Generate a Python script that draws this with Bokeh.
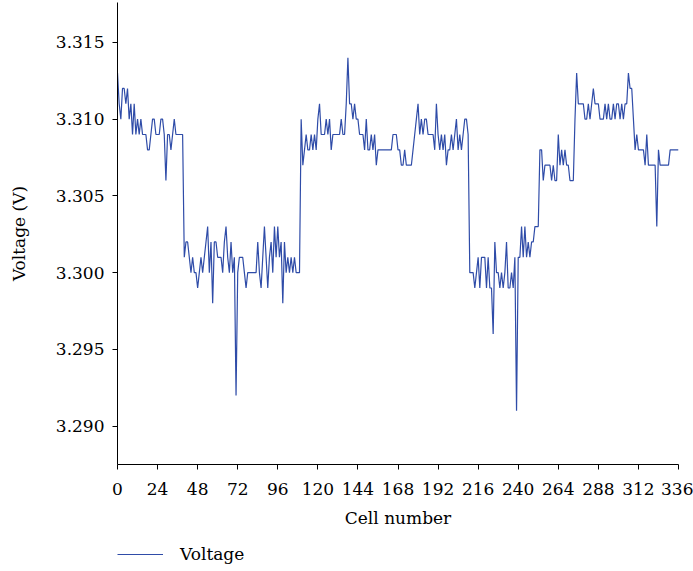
from bokeh.plotting import figure
from bokeh.layouts import column
from bokeh.models import Legend, LegendItem, FixedTicker, PrintfTickFormatter, Range1d
from bokeh.embed import file_html
from bokeh.resources import INLINE

# Per-cell voltage readings (V), cell 0 .. 336
voltage = [
    3.313, 3.311, 3.310, 3.312, 3.312, 3.311, 3.312, 3.310, 3.311, 3.309, 3.311, 3.309,
    3.310, 3.309, 3.310, 3.309, 3.309, 3.309, 3.308, 3.308, 3.309, 3.310, 3.310, 3.309,
    3.309, 3.309, 3.310, 3.310, 3.309, 3.306, 3.309, 3.309, 3.308, 3.309, 3.310, 3.309,
    3.309, 3.309, 3.309, 3.309, 3.301, 3.302, 3.302, 3.301, 3.300, 3.301, 3.300, 3.300,
    3.299, 3.300, 3.301, 3.300, 3.301, 3.302, 3.303, 3.300, 3.302, 3.298, 3.302, 3.302,
    3.301, 3.301, 3.301, 3.300, 3.302, 3.303, 3.301, 3.300, 3.302, 3.300, 3.301, 3.292,
    3.300, 3.301, 3.301, 3.301, 3.300, 3.299, 3.300, 3.300, 3.300, 3.300, 3.300, 3.300,
    3.302, 3.300, 3.299, 3.301, 3.303, 3.301, 3.299, 3.301, 3.302, 3.300, 3.303, 3.301,
    3.303, 3.301, 3.302, 3.298, 3.302, 3.300, 3.301, 3.300, 3.301, 3.300, 3.301, 3.300,
    3.300, 3.300, 3.310, 3.307, 3.308, 3.309, 3.308, 3.308, 3.309, 3.308, 3.309, 3.308,
    3.310, 3.311, 3.309, 3.309, 3.309, 3.310, 3.309, 3.310, 3.308, 3.309, 3.309, 3.309,
    3.309, 3.309, 3.310, 3.309, 3.309, 3.311, 3.314, 3.311, 3.311, 3.310, 3.311, 3.310,
    3.310, 3.309, 3.309, 3.309, 3.308, 3.310, 3.308, 3.308, 3.309, 3.308, 3.309, 3.307,
    3.308, 3.308, 3.308, 3.308, 3.308, 3.308, 3.308, 3.308, 3.308, 3.309, 3.309, 3.309,
    3.308, 3.308, 3.307, 3.307, 3.308, 3.307, 3.307, 3.307, 3.307, 3.308, 3.309, 3.310,
    3.311, 3.309, 3.310, 3.309, 3.310, 3.310, 3.309, 3.309, 3.309, 3.309, 3.308, 3.311,
    3.309, 3.308, 3.309, 3.308, 3.309, 3.307, 3.308, 3.308, 3.309, 3.308, 3.309, 3.310,
    3.308, 3.309, 3.308, 3.309, 3.310, 3.310, 3.309, 3.300, 3.300, 3.300, 3.299, 3.300,
    3.301, 3.299, 3.301, 3.301, 3.301, 3.299, 3.301, 3.299, 3.299, 3.296, 3.302, 3.300,
    3.300, 3.299, 3.300, 3.299, 3.300, 3.302, 3.299, 3.299, 3.300, 3.299, 3.301, 3.291,
    3.301, 3.301, 3.303, 3.301, 3.303, 3.301, 3.302, 3.301, 3.302, 3.302, 3.303, 3.303,
    3.303, 3.308, 3.308, 3.306, 3.307, 3.307, 3.307, 3.307, 3.306, 3.307, 3.306, 3.306,
    3.309, 3.307, 3.308, 3.307, 3.308, 3.307, 3.307, 3.306, 3.306, 3.306, 3.310, 3.313,
    3.311, 3.311, 3.311, 3.311, 3.310, 3.310, 3.311, 3.310, 3.311, 3.312, 3.311, 3.311,
    3.311, 3.310, 3.310, 3.310, 3.311, 3.310, 3.311, 3.310, 3.310, 3.311, 3.310, 3.311,
    3.311, 3.310, 3.311, 3.310, 3.311, 3.311, 3.313, 3.312, 3.312, 3.310, 3.308, 3.309,
    3.308, 3.308, 3.308, 3.308, 3.307, 3.309, 3.307, 3.307, 3.307, 3.307, 3.307, 3.303,
    3.308, 3.307, 3.307, 3.307, 3.307, 3.307, 3.307, 3.308, 3.308, 3.308, 3.308, 3.308,
    3.308,
]
cell_number = list(range(len(voltage)))

x_ticks = [0, 24, 48, 72, 96, 120, 144, 168, 192, 216, 240, 264, 288, 312, 336]
y_ticks = [3.290, 3.295, 3.300, 3.305, 3.310, 3.315]

FONT = "DejaVu Serif"
FONT_SIZE = "17px"
LINE_COLOR = "#2f4ca8"
LINE_WIDTH = 1.2

# Main chart
chart = figure(
    frame_width=561, frame_height=462,
    output_backend="svg", toolbar_location=None,
    x_range=Range1d(0, 336), y_range=Range1d(3.2875, 3.3176),
    min_border_left=117, min_border_right=15,
    min_border_top=2, min_border_bottom=65,
)
chart.grid.visible = False
chart.outline_line_color = None
chart.background_fill_color = "white"
chart.border_fill_color = "white"

chart.line(cell_number, voltage, line_color=LINE_COLOR, line_width=LINE_WIDTH)

for ax in (chart.xaxis[0], chart.yaxis[0]):
    ax.axis_line_color = "black"
    ax.axis_line_width = 1
    ax.major_tick_line_color = "black"
    ax.major_tick_in = 0
    ax.major_tick_out = 5
    ax.minor_tick_line_color = None
    ax.major_label_text_font = FONT
    ax.major_label_text_font_size = FONT_SIZE
    ax.major_label_text_color = "black"
    ax.axis_label_text_font = FONT
    ax.axis_label_text_font_size = FONT_SIZE
    ax.axis_label_text_font_style = "normal"
    ax.axis_label_text_color = "black"

chart.xaxis.ticker = FixedTicker(ticks=x_ticks)
chart.yaxis.ticker = FixedTicker(ticks=y_ticks)
chart.yaxis.formatter = PrintfTickFormatter(format="%.3f")
chart.xaxis.axis_label = "Cell number"
chart.yaxis.axis_label = "Voltage (V)"
chart.xaxis.major_label_standoff = 13
chart.xaxis.axis_label_standoff = 10
chart.yaxis.major_label_standoff = 8
chart.yaxis.axis_label_standoff = 24

# Legend strip under the chart; its series copy lies outside the strip's
# ranges, so only the legend entry shows.
key = figure(
    width=693, height=42,
    output_backend="svg", toolbar_location=None,
    x_range=Range1d(0, 1), y_range=Range1d(0, 1),
    min_border=0,
)
key.axis.visible = False
key.grid.visible = False
key.outline_line_color = None
key.background_fill_color = "white"
key.border_fill_color = "white"
key_line = key.line(cell_number, voltage, line_color=LINE_COLOR, line_width=LINE_WIDTH)

legend = Legend(
    items=[LegendItem(label="Voltage", renderers=[key_line])],
    location=(0, 8),
    border_line_color=None,
    background_fill_alpha=0,
    padding=0, margin=0,
    glyph_width=46, glyph_height=20,
    label_standoff=17,
    label_text_font=FONT,
    label_text_font_size=FONT_SIZE,
    label_text_color="black",
)
key.add_layout(legend)

p = column(chart, key, spacing=0)

open("out.html", "w").write(file_html(p, INLINE))
